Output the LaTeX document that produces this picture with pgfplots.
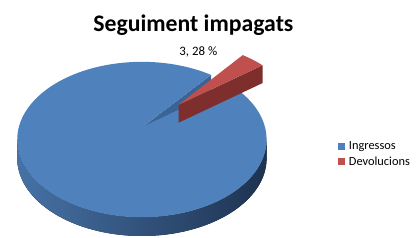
\documentclass[border=0pt]{standalone}
\usepackage{pgfplots}
\pgfplotsset{compat=1.18}
\usepackage{pgfplotstable}
\usepackage{fontspec}
\setmainfont{Carlito}

\definecolor{blueTop}{HTML}{4F81BD}
\definecolor{blueCut}{HTML}{3A6495}
\definecolor{blueSideL}{HTML}{4672A6}
\definecolor{blueSideR}{HTML}{1E3250}
\definecolor{redTop}{HTML}{C0504D}
\definecolor{redSide}{HTML}{7E2F2D}

\pgfplotstableread{
label value
Ingressos 96.72
Devolucions 3.28
}\piedata

\begin{document}
\begin{tikzpicture}
\pgfplotstablegetelem{0}{value}\of\piedata \let\vA\pgfplotsretval
\pgfplotstablegetelem{1}{value}\of\piedata \let\vB\pgfplotsretval
\pgfmathsetmacro{\aS}{44.5}
\pgfmathsetmacro{\aE}{\aS+360*\vB/(\vA+\vB)}
\pgfmathsetmacro{\aF}{\aS+360}
\begin{axis}[scale only axis, width=417pt, height=240pt,
  xmin=0, xmax=417, ymin=0, ymax=240, hide axis, clip=false]
\path (axis cs:0,0) rectangle (axis cs:417,240);
% blue side wall
\fill[left color=blueSideL, right color=blueSideR]
  (axis cs:13,99) arc[start angle=180, end angle=360, x radius=126pt, y radius=78.5pt]
  -- ++(0,-19pt) arc[start angle=360, end angle=180, x radius=126pt, y radius=78.5pt] -- cycle;
% blue cut face
\fill[blueCut] (axis cs:140,112) -- (axis cs:{139+126*cos(\aE)},{99+78.5*sin(\aE)})
  -- ++(0,-18pt) -- (axis cs:140,94) -- cycle;
% blue top
\fill[blueTop] (axis cs:140,112) -- (axis cs:{139+126*cos(\aE)},{99+78.5*sin(\aE)})
  arc[start angle=\aE, end angle=\aF, x radius=126pt, y radius=78.5pt] -- cycle;
% red cut face
\fill[redSide] (axis cs:176,134) -- (axis cs:{171+126*cos(\aS)},{119+78.5*sin(\aS)})
  -- ++(0,-18pt) -- (axis cs:176,116) -- cycle;
% red top
\fill[redTop] (axis cs:176,134) -- (axis cs:{171+126*cos(\aS)},{119+78.5*sin(\aS)})
  arc[start angle=\aS, end angle=\aE, x radius=126pt, y radius=78.5pt] -- cycle;
\node[font=\bfseries\fontsize{24}{28}\selectfont] at (axis cs:191,215) {Seguiment impagats};
\node[font=\fontsize{13}{15}\selectfont] at (axis cs:196,188) {3, 28 \%};
% legend
\fill[blueTop] (axis cs:337,88.5) rectangle (axis cs:344,95.5);
\node[anchor=west, inner sep=0pt, font=\fontsize{12.5}{14}\selectfont] at (axis cs:348,92) {Ingressos};
\fill[redTop] (axis cs:337,73.5) rectangle (axis cs:344,80.5);
\node[anchor=west, inner sep=0pt, font=\fontsize{12.5}{14}\selectfont] at (axis cs:348,77) {Devolucions};
\end{axis}
\end{tikzpicture}
\end{document}
